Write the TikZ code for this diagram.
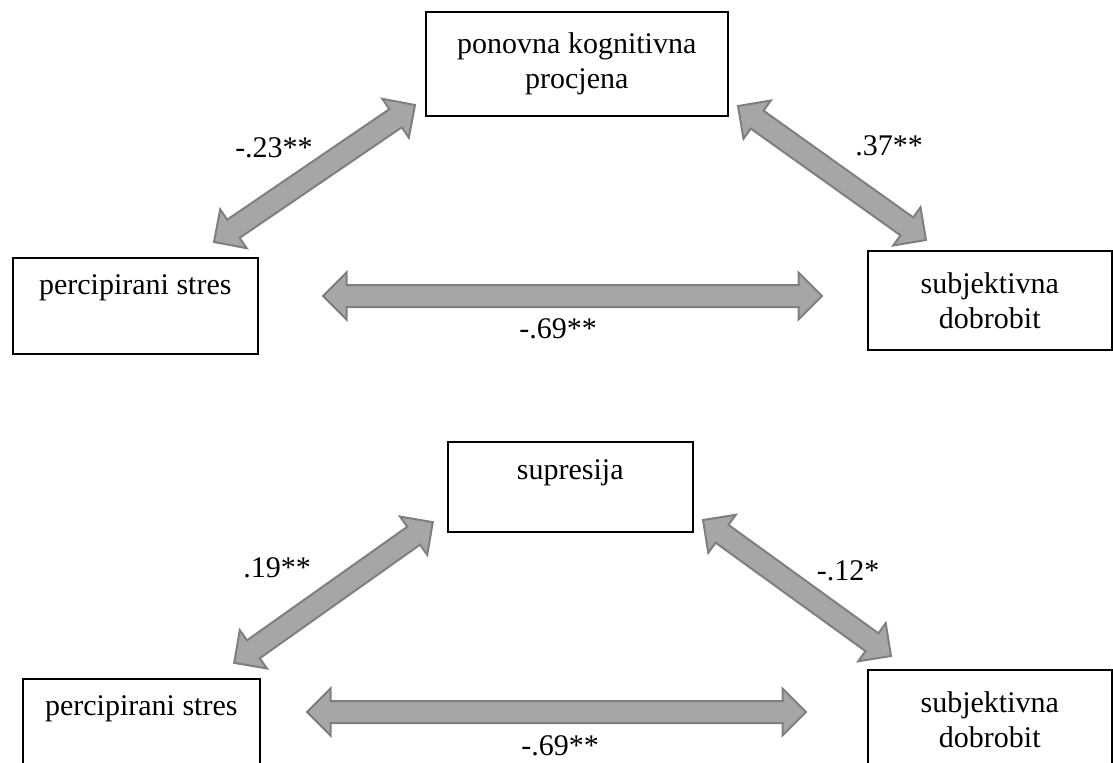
\documentclass[tikz,border=0pt]{standalone}
\usepackage{fontspec}
\setmainfont{Liberation Serif}
\usetikzlibrary{calc,shapes.arrows}
\definecolor{arrfill}{HTML}{A6A6A6}
\definecolor{arrline}{HTML}{7F7F7F}
\tikzset{
  var/.style={draw, line width=0.8pt, inner sep=0pt, align=center, anchor=north west},
  onerow/.style={var, text height=18.5pt, text depth=29.5pt},
  corr/.style={shape=double arrow, draw=arrline, fill=arrfill, line width=1pt,
    inner xsep=0pt, inner ysep=5pt, double arrow head extend=6.25pt},
  coef/.style={inner sep=1pt}
}
% double-headed correlation arrow between two named points
\newcommand\corrarrow[3]{%
  \path let \p1=($(#3)-(#2)$), \n1={atan2(\y1,\x1)}, \n2={veclen(\x1,\y1)} in
    node[corr, minimum height=\n2, rotate=\n1] (#1) at ($(#2)!0.5!(#3)$) {};}

\begin{document}
\begin{tikzpicture}[x=0.5pt, y=-0.5pt, font=\fontsize{15}{17.5}\selectfont]
  \useasboundingbox (0,0) rectangle (1113,762);
  \clip (0,0) rectangle (1113,762);

  % reappraisal model
  \node[var, minimum width=151pt, minimum height=52pt] (pkp) at (425,11) {ponovna kognitivna\\procjena};
  \node[onerow, minimum width=122.5pt] (ps1) at (12,257) {percipirani stres};
  \node[var, minimum width=122pt, minimum height=49.5pt] (sd1) at (867,250) {subjektivna\\dobrobit};

  \coordinate (a1s) at (214,242); \coordinate (a1t) at (415,105);
  \coordinate (a2s) at (738,106); \coordinate (a2t) at (926,240);
  \coordinate (a3s) at (323,296); \coordinate (a3t) at (822,296);
  \corrarrow{r1}{a1s}{a1t}
  \corrarrow{r2}{a2s}{a2t}
  \corrarrow{r3}{a3s}{a3t}

  \node[coef] (c1) at (274,148) {-.23**};
  \node[coef] (c2) at (889,146) {.37**};
  \node[coef] (c3) at (558,329) {-.69**};

  % suppression model
  \node[var, text height=18.85pt, text depth=26.15pt, minimum width=122.5pt] (sup) at (447,441) {supresija};
  \node[onerow, minimum width=118.5pt] (ps2) at (22,678) {percipirani stres};
  \node[var, minimum width=122pt, minimum height=49.5pt] (sd2) at (867,669) {subjektivna\\dobrobit};

  \coordinate (b1s) at (234,663); \coordinate (b1t) at (433,522);
  \coordinate (b2s) at (703,520); \coordinate (b2t) at (891,656);
  \coordinate (b3s) at (307,712); \coordinate (b3t) at (806,712);
  \corrarrow{s1}{b1s}{b1t}
  \corrarrow{s2}{b2s}{b2t}
  \corrarrow{s3}{b3s}{b3t}

  \node[coef] (d1) at (277,568) {.19**};
  \node[coef] (d2) at (848,571) {-.12*};
  \node[coef] (d3) at (560,746) {-.69**};
\end{tikzpicture}
\end{document}
